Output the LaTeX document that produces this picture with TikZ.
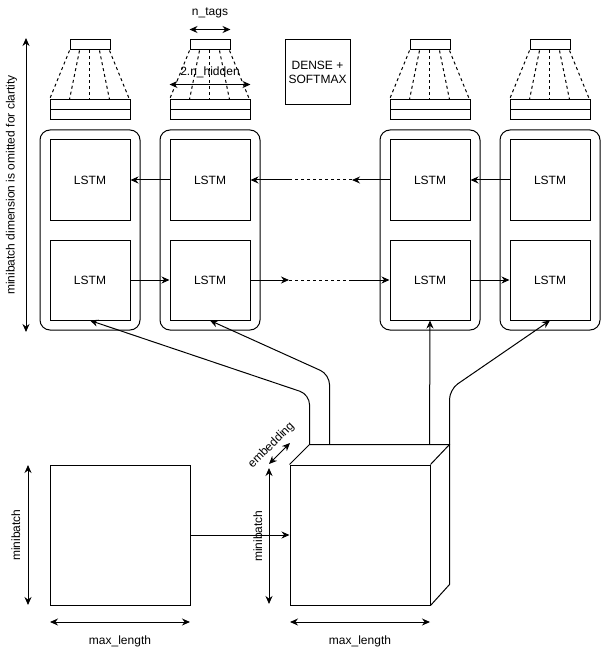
\documentclass[tikz,border=0pt]{standalone}
\usepackage{fontspec}
\setmainfont{Liberation Sans}
\usetikzlibrary{arrows.meta,positioning,calc}

\begin{document}
\begin{tikzpicture}[x=1pt, y=-1pt, line width=1pt,
  every node/.style={font=\fontsize{12}{14}\selectfont},
  cell/.style={draw, minimum width=80, minimum height=80, inner sep=0pt},
  colbox/.style={draw, rounded corners=10, minimum width=100, minimum height=200, inner sep=0pt},
  tagbox/.style={draw, minimum width=40, minimum height=10, inner sep=0pt},
  hidbox/.style={draw, minimum width=80, minimum height=10, inner sep=0pt},
  fan/.style={dash pattern=on 3pt off 3pt},
  arr/.style={-{Stealth[length=8pt,width=7pt]}},
  dim/.style={{Stealth[length=8pt,width=7pt]}-{Stealth[length=8pt,width=7pt]}}]
  \useasboundingbox (0,0) rectangle (601,652);
  % Columns
  \foreach \x/\n in {90/1,210/2,430/3,550/4}{
    \node[colbox] (c\n) at (\x,230) {};
    \node[cell] (u\n) at (\x,180) {LSTM};
    \node[cell] (d\n) at (\x,280) {LSTM};
    \node[hidbox] (ha\n) at (\x,105) {};
    \node[hidbox] (hb\n) at (\x,115) {};
    \node[tagbox] (t\n) at (\x,45) {};
    \foreach \k in {0,...,4}
      \draw[fan] ($(t\n.south west)+(10*\k,0)$) -- ($(ha\n.north west)+(20*\k,0)$);
  }
  \node[draw, minimum width=65, minimum height=65, align=center] (dense) at (317.5,72.5) {DENSE +\\SOFTMAX};
  % Recurrent links
  \draw[arr] (u2) -- (u1);
  \draw[arr] (d1) -- (d2);
  \draw[arr] (u4) -- (u3);
  \draw[arr] (d3) -- (d4);
  \coordinate (ua) at (352,180);
  \coordinate (ub) at (290,180);
  \draw[arr] (u3) -- (ua);
  \draw[fan] (ua) -- (ub);
  \draw[arr] (ub) -- (u2);
  \coordinate (da) at (289,280);
  \coordinate (db) at (352,280);
  \draw[arr] (d2) -- (da);
  \draw[fan] (da) -- (db);
  \draw[arr] (db) -- (d3);
  % Sizes of the output layer
  \coordinate (nt1) at ($(t2.north west)+(0,-10)$);
  \coordinate (nt2) at ($(t2.north east)+(0,-10)$);
  \draw[dim] (nt1) -- (nt2) node[midway, above=8pt] {n\_tags};
  \coordinate (nh1) at ($(ha2.north west)+(0,-15)$);
  \coordinate (nh2) at ($(ha2.north east)+(0,-15)$);
  \draw[dim] (nh1) -- (nh2) node[midway, above=3pt] {2.n\_hidden};
  \coordinate (mb1) at (26,38);
  \coordinate (mb2) at (26,332);
  \draw[dim] (mb2) -- (mb1) node[midway, sloped, above=5pt] {minibatch dimension is omitted for clartity};
  % Input batch and embedded batch
  \node[draw, minimum size=140, inner sep=0pt] (seq) at (120,535) {};
  \node[draw, minimum size=140, inner sep=0pt] (front) at (360,535) {};
  \draw (front.north west) -- ++(20,-20) coordinate (e1) -- ++(140,0) coordinate (e4)
    -- ++(0,140) -- (front.south east);
  \draw (front.north east) -- (e4);
  \coordinate (e2) at ($(e1)+(20,0)$);
  \coordinate (e3) at ($(e1)+(120,0)$);
  \draw[arr] (seq) -- (front);
  % Inputs to the LSTMs
  \draw[arr, rounded corners=10] (e1) -- ++(0,-50) -- (d1.south);
  \draw[arr, rounded corners=10] (e2) -- ++(0,-70) -- (d2.south);
  \draw[arr] (e3) -- (d3.south);
  \draw[arr, rounded corners=10] (e4) -- ++(0,-55) -- (d4.south);
  % Dimensions
  \coordinate (sa) at (28,465);
  \coordinate (sb) at (28,605);
  \draw[dim] (sb) -- (sa) node[midway, sloped, above=4pt] {minibatch};
  \coordinate (sc) at (50,622);
  \coordinate (sd) at (190,622);
  \draw[dim] (sc) -- (sd) node[midway, below=10pt] {max\_length};
  \coordinate (fa) at (269,468);
  \coordinate (fb) at (269,604);
  \draw[dim] (fb) -- (fa) node[midway, sloped, above=3pt] {minibatch};
  \coordinate (fc) at (290,622);
  \coordinate (fd) at (430,622);
  \draw[dim] (fc) -- (fd) node[midway, below=10pt] {max\_length};
  \coordinate (ea) at (269,464);
  \coordinate (eb) at (290,443);
  \draw[dim] (ea) -- (eb) node[midway, sloped, above=2pt] {embedding};
\end{tikzpicture}
\end{document}
